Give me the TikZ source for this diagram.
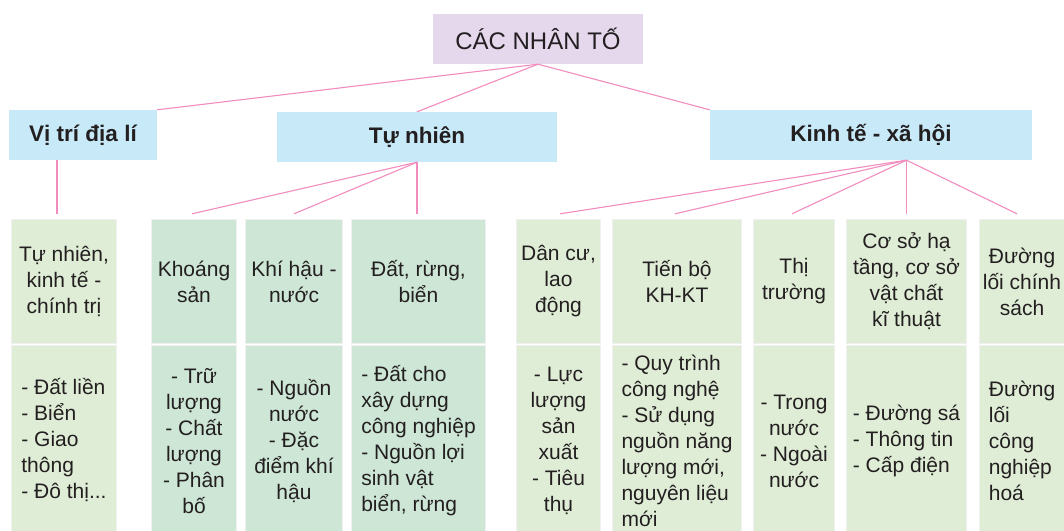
\documentclass[tikz,border=0pt]{standalone}
\usepackage{fontspec}
\setmainfont{Liberation Sans}
\usetikzlibrary{calc}
\definecolor{toppurple}{RGB}{229,216,236}
\definecolor{hdrblue}{RGB}{199,233,248}
\definecolor{cellgreen}{RGB}{223,237,214}
\definecolor{cellmint}{RGB}{205,230,213}
\definecolor{linkpink}{RGB}{240,140,190}
\definecolor{txt}{RGB}{35,31,32}
\definecolor{framegray}{RGB}{240,240,240}
\begin{document}
\begin{tikzpicture}[x=1pt,y=-1pt,
  conn/.style={draw=linkpink,line width=1.1pt},
  topbox/.style={fill=toppurple,text=txt,inner sep=0pt,font=\fontsize{24}{28}\selectfont,minimum height=50pt},
  hdr/.style={fill=hdrblue,text=txt,inner sep=0pt,font=\bfseries\fontsize{22.5}{26}\selectfont,minimum height=50pt},
  cellbox/.style={inner sep=0pt,text=txt,font=\fontsize{21}{26}\selectfont,
    preaction={draw=framegray,line width=1.6pt}},
  topcell/.style={cellbox,minimum height=123pt},
  botcell/.style={cellbox,minimum height=190pt},
  grn/.style={fill=cellgreen},
  mnt/.style={fill=cellmint}
]
\useasboundingbox (0,0) rectangle (1064,530);

% top
\node[topbox,minimum width=210pt] (top) at (538,39) {CÁC NHÂN TỐ};

% headers
\node[hdr,minimum width=148pt] (vt) at (83,135) {Vị trí địa lí};
\node[hdr,minimum width=280pt] (tn) at (417,137) {Tự nhiên};
\node[hdr,minimum width=322pt] (kt) at (871,135) {Kinh tế - xã hội};

% column 1
\node[topcell,grn,minimum width=104pt,align=center] (c1t) at (64,281.5) {Tự nhiên,\\kinh tế -\\chính trị};
\node[botcell,grn,minimum width=104pt] (c1b) at (64,441) {\begin{tabular}{@{}l@{}}- Đất liền\\- Biển\\- Giao\\thông\\- Đô thị...\end{tabular}};

% Tu nhien group
\node[topcell,mnt,minimum width=84pt,align=center] (c2t) at (194,281.5) {Khoáng\\sản};
\node[botcell,mnt,minimum width=84pt,align=center] (c2b) at (194,441) {- Trữ\\lượng\\- Chất\\lượng\\- Phân\\bố};
\node[topcell,mnt,minimum width=96pt,align=center] (c3t) at (294,281.5) {Khí hậu -\\nước};
\node[botcell,mnt,minimum width=96pt,align=center] (c3b) at (294,441) {- Nguồn\\nước\\- Đặc\\điểm khí\\hậu};
\node[topcell,mnt,minimum width=133pt,align=center] (c4t) at (418.5,281.5) {Đất, rừng,\\biển};
\node[botcell,mnt,minimum width=133pt,align=left] (c4b) at (418.5,441) {- Đất cho\\xây dựng\\công nghiệp\\- Nguồn lợi\\sinh vật\\biển, rừng};

% Kinh te group
\node[topcell,grn,minimum width=83pt,align=center] (c5t) at (558.5,281.5) {Dân cư,\\lao\\động};
\node[botcell,grn,minimum width=83pt,align=center] (c5b) at (558.5,441) {- Lực\\lượng\\sản\\xuất\\- Tiêu\\thụ};
\node[topcell,grn,minimum width=128pt,align=center] (c6t) at (677,281.5) {Tiến bộ\\KH-KT};
\node[botcell,grn,minimum width=128pt,align=left] (c6b) at (677,441) {- Quy trình\\công nghệ\\- Sử dụng\\nguồn năng\\lượng mới,\\nguyên liệu\\mới};
\node[topcell,grn,minimum width=80pt,align=center] (c7t) at (794,281.5) {Thị\\trường};
\node[botcell,grn,minimum width=80pt,align=center] (c7b) at (794,441) {- Trong\\nước\\- Ngoài\\nước};
\node[topcell,grn,minimum width=119pt,align=center] (c8t) at (906.5,281.5) {Cơ sở hạ\\tầng, cơ sở\\vật chất\\kĩ thuật};
\node[botcell,grn,minimum width=119pt,align=left] (c8b) at (906.5,441) {- Đường sá\\- Thông tin\\- Cấp điện};
\node[topcell,grn,minimum width=84pt,align=center] (c9t) at (1022,281.5) {Đường\\lối chính\\sách};
\node[botcell,grn,minimum width=84pt,align=left] (c9b) at (1022,441) {Đường\\lối\\công\\nghiệp\\hoá};

% connectors top -> headers
\draw[conn] (top.south) -- (vt.north east);
\draw[conn] (top.south) -- (tn.north);
\draw[conn] (top.south) -- (kt.north west);

% Vi tri dia li
\coordinate (vtb) at (57,214);
\draw[conn] (vt.south -| vtb) -- (vtb);

% Tu nhien
\draw[conn] (tn.south) -- ($(c2t.north)+(-2,-6)$);
\draw[conn] (tn.south) -- ($(c3t.north)+(0,-6)$);
\draw[conn] (tn.south) -- ($(c4t.north -| tn.south)+(0,-6)$);

% Kinh te - xa hoi
\coordinate (kto) at (c8t.north |- kt.south);
\draw[conn] (kto) -- ($(c5t.north)+(1.5,-6)$);
\draw[conn] (kto) -- ($(c6t.north)+(-2,-6)$);
\draw[conn] (kto) -- ($(c7t.north)+(-2,-6)$);
\draw[conn] (kto) -- ($(c8t.north)+(0,-6)$);
\draw[conn] (kto) -- ($(c9t.north)+(-5,-6)$);
\end{tikzpicture}
\end{document}
